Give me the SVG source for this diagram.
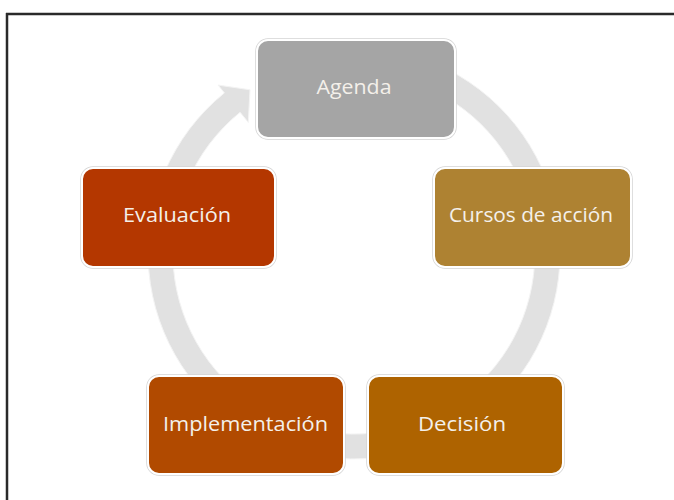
<svg xmlns="http://www.w3.org/2000/svg" width="674" height="500" viewBox="0 0 674 500">
<style>
.box{stroke:#ffffff;stroke-width:2}
.halo{fill:none;stroke:#d4d4d4;stroke-width:3.5}
.lbl{font-family:"Open Sans","Liberation Sans",sans-serif;font-size:20px;fill:#f4f0ea;text-anchor:middle}
</style>
<rect x="0" y="0" width="674" height="500" fill="#ffffff"/>
<g id="frame" stroke="#2a2a2a" stroke-width="2.5" fill="none">
<line x1="6" y1="14" x2="674" y2="14"/>
<line x1="7" y1="13" x2="7" y2="500"/>
</g>
<g id="connectors">
<path d="M 300.7 54.0 A 206 206 0 1 1 224.4 92.9 L 218.1 85.1 L 250.0 89.8 L 248.3 122.4 L 240.1 112.3 A 181 181 0 1 0 307.2 78.2 Z" fill="#e1e1e1" stroke="#f4f4f4" stroke-width="1"/>
</g>
<g id="agenda">
<rect class="halo" x="257" y="40" width="198" height="98" rx="11"/>
<rect class="box" x="257" y="40" width="198" height="98" rx="11" fill="#a5a5a5"/>
<text class="lbl" x="354" y="94" textLength="75" lengthAdjust="spacingAndGlyphs">Agenda</text>
</g>
<g id="cursos">
<rect class="halo" x="434" y="168" width="197" height="99" rx="11"/>
<rect class="box" x="434" y="168" width="197" height="99" rx="11" fill="#ae8232"/>
<text class="lbl" x="531" y="222" textLength="164" lengthAdjust="spacingAndGlyphs">Cursos de acción</text>
</g>
<g id="decision">
<rect class="halo" x="368" y="376" width="195" height="98" rx="11"/>
<rect class="box" x="368" y="376" width="195" height="98" rx="11" fill="#ae6300"/>
<text class="lbl" x="462" y="431" textLength="88" lengthAdjust="spacingAndGlyphs">Decisión</text>
</g>
<g id="implementacion">
<rect class="halo" x="148" y="376" width="196" height="98" rx="11"/>
<rect class="box" x="148" y="376" width="196" height="98" rx="11" fill="#b14a00"/>
<text class="lbl" x="245.5" y="431" textLength="165" lengthAdjust="spacingAndGlyphs">Implementación</text>
</g>
<g id="evaluacion">
<rect class="halo" x="82" y="168" width="193" height="99" rx="11"/>
<rect class="box" x="82" y="168" width="193" height="99" rx="11" fill="#b43700"/>
<text class="lbl" x="177" y="222" textLength="108" lengthAdjust="spacingAndGlyphs">Evaluación</text>
</g>
</svg>
